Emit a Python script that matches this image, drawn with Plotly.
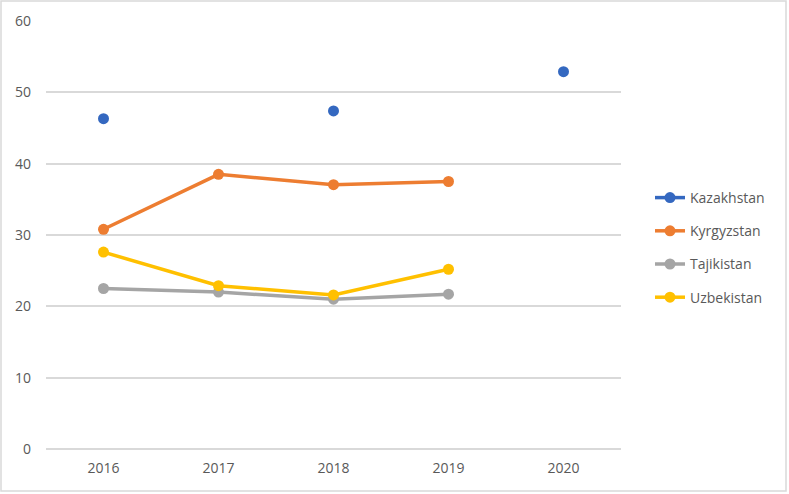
import plotly.graph_objects as go

years = ["2016", "2017", "2018", "2019", "2020"]
kazakhstan = [46.3, None, 47.4, None, 52.9]
kyrgyzstan = [30.8, 38.5, 37.05, 37.5, None]
tajikistan = [22.5, 22.0, 21.0, 21.7, None]
uzbekistan = [27.6, 22.9, 21.6, 25.2, None]

names = ["Kazakhstan", "Kyrgyzstan", "Tajikistan", "Uzbekistan"]
series = [kazakhstan, kyrgyzstan, tajikistan, uzbekistan]
colors = ["#3468C0", "#ED7D31", "#A5A5A5", "#FFC000"]

W, H = 789, 494
ml, mr, mt, mb = 46, 168, 21, 45
pw, ph = W - ml - mr, H - mt - mb

fig = go.Figure()
for n, s, c in zip(names, series, colors):
    fig.add_trace(go.Scatter(
        x=years, y=s, name=n, mode="lines+markers",
        line=dict(color=c, width=3.5),
        marker=dict(color=c, size=11),
        connectgaps=False, legendgroup=n,
    ))

fig.update_layout(
    width=W, height=H,
    margin=dict(l=ml, r=mr, t=mt, b=mb),
    paper_bgcolor="white", plot_bgcolor="white",
    font=dict(family="Open Sans, Liberation Sans, sans-serif", size=14, color="#595959"),
    xaxis=dict(type="category", range=[-0.5, 4.5], showgrid=False, showline=False,
               ticks="", ticklabelstandoff=9, tickfont=dict(size=14, color="#595959")),
    yaxis=dict(range=[0, 60], dtick=10, showgrid=True, gridcolor="#D9D9D9", gridwidth=1.5,
               zeroline=True, zerolinecolor="#D9D9D9", zerolinewidth=1.5, showline=False,
               ticks="", ticklabelstandoff=14, tickfont=dict(size=14, color="#595959")),
    legend=dict(x=(650 - ml) / pw, y=(H - mb - 182) / ph, xanchor="left", yanchor="top",
                traceorder="grouped", tracegroupgap=12,
                font=dict(size=14, color="#595959"), bgcolor="rgba(0,0,0,0)"),
    shapes=[dict(type="rect", xref="paper", yref="paper",
                 x0=(-ml + 1) / pw, x1=(W - ml - 3) / pw,
                 y0=(-mb + 3) / ph, y1=(H - mb - 1) / ph,
                 line=dict(color="#D9D9D9", width=1.5), layer="below")],
)

fig.write_html("out.html", config={"displayModeBar": False},
               post_script="document.body.style.margin='0';document.body.style.overflow='hidden';")
